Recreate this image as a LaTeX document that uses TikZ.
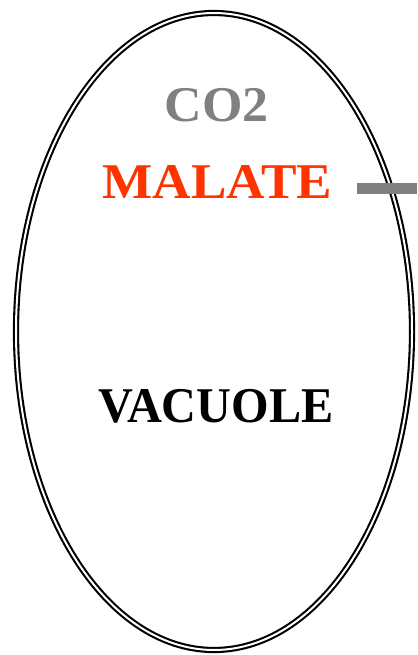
\documentclass[tikz,border=0pt]{standalone}
\usepackage{fontspec}
\setmainfont{Liberation Serif}
\begin{document}
\begin{tikzpicture}[x=1bp,y=-1bp,
  lbl/.style={font=\fontsize{50bp}{55bp}\selectfont\bfseries, anchor=base, inner sep=0pt},
  membrane/.style={draw=black, line width=2.1bp, double=white, double distance=2bp}]
\useasboundingbox (0,0) rectangle (417,655);
\draw[membrane] (214,331.5) ellipse [x radius=198, y radius=318.5];
\node[lbl, text={rgb,255:red,128;green,128;blue,128}] (co2) at (216.5,122) {\scalebox{1.04}[1]{CO2}};
\node[lbl, text={rgb,255:red,255;green,51;blue,0}] (malate) at (217.5,198) {\scalebox{1.065}[1]{MALATE}};
\node[lbl, text=black] (vacuole) at (216,422) {\scalebox{0.965}[1]{VACUOLE}};
\coordinate (barend) at (417,188.5);
\coordinate (barstart) at (357,188.5);
\draw[line width=11bp, draw={rgb,255:red,128;green,128;blue,128}] (barstart) -- (barend);
\end{tikzpicture}
\end{document}
